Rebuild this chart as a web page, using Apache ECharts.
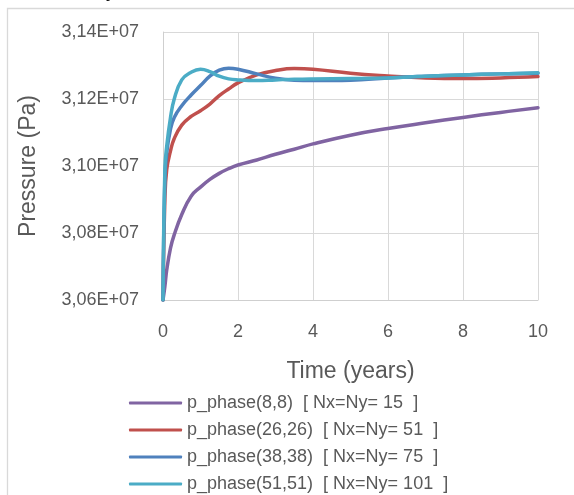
<!DOCTYPE html>
<html>
<head>
<meta charset="utf-8">
<script src="https://cdn.jsdelivr.net/npm/echarts@6/dist/echarts.min.js"></script>
<style>
  html, body { margin: 0; padding: 0; background: #ffffff; }
  #chart { width: 574px; height: 495px; }
</style>
</head>
<body>
<div id="chart"></div>
<script>
// Time samples (years) shared by all series
const timeYears = [0, 0.05, 0.1, 0.2, 0.3, 0.5, 0.75, 1, 1.25, 1.5, 1.75, 2, 2.5, 3, 3.5, 4, 5, 6, 7, 8, 9, 10];

// Phase pressure (Pa) at the monitored cell for each grid resolution
const pressureN15 = [30600000, 30640000, 30690000, 30755000, 30795000, 30855000, 30910000, 30937000, 30960000, 30978000, 30992000, 31003000, 31018000, 31035000, 31050000, 31066000, 31092000, 31112000, 31129000, 31145000, 31160000, 31174000];
const pressureN51 = [30600000, 30900000, 30990000, 31045000, 31082000, 31122000, 31148000, 31165000, 31185000, 31210000, 31230000, 31248000, 31272000, 31285000, 31291000, 31289000, 31277000, 31269000, 31263000, 31261000, 31263000, 31267000];
const pressureN75 = [30600000, 30960000, 31040000, 31110000, 31145000, 31180000, 31212000, 31240000, 31268000, 31286000, 31292000, 31289000, 31275000, 31262000, 31256000, 31255000, 31256000, 31263000, 31268000, 31272000, 31275000, 31277000];
const pressureN101 = [30600000, 30990000, 31060000, 31145000, 31200000, 31257000, 31280000, 31289000, 31282000, 31268000, 31260000, 31257000, 31255000, 31257000, 31259000, 31260000, 31261000, 31263000, 31268000, 31272000, 31275000, 31278000];

const seriesNames = [
  'p_phase(8,8)  [ Nx=Ny= 15  ]',
  'p_phase(26,26)  [ Nx=Ny= 51  ]',
  'p_phase(38,38)  [ Nx=Ny= 75  ]',
  'p_phase(51,51)  [ Nx=Ny= 101  ]'
];
const seriesValues = [pressureN15, pressureN51, pressureN75, pressureN101];
const seriesColors = ['#8064A2', '#C0504D', '#4F81BD', '#4BACC6'];

const xTitle = 'Time (years)';
const yTitle = 'Pressure (Pa)';

const FONT = '"Liberation Sans", Arial, sans-serif';
const TEXT = '#595959';
const GRID_LINE = '#D9D9D9';

const chart = echarts.init(document.getElementById('chart'), null, { renderer: 'canvas' });

const series = seriesValues.map((vals, i) => ({
  name: seriesNames[i],
  type: 'line',
  data: timeYears.map((t, k) => [t, vals[k]]),
  showSymbol: false,
  smooth: 0.45,
  lineStyle: { width: 3.5, color: seriesColors[i], cap: 'round', join: 'round' },
  itemStyle: { color: seriesColors[i] },
  emphasis: { disabled: true },
  animation: false
}));

chart.setOption({
  animation: false,
  backgroundColor: '#ffffff',
  graphic: [
    {
      type: 'rect',
      shape: { x: 7.5, y: 8.5, width: 700, height: 700 },
      style: { fill: 'none', stroke: GRID_LINE, lineWidth: 1.3 },
      silent: true
    },
    {
      type: 'text',
      left: 106, top: -15,
      style: { text: 'p', font: '16px "Liberation Serif", serif', fill: '#000000' },
      silent: true
    }
  ],
  grid: { left: 163, top: 32, width: 375, height: 268 },
  xAxis: {
    type: 'value',
    min: 0, max: 10, interval: 2,
    name: xTitle,
    nameLocation: 'middle',
    nameGap: 60,
    nameTextStyle: { fontSize: 23, color: TEXT, fontFamily: FONT },
    axisLine: { show: true, lineStyle: { color: '#CFCFCF', width: 1 } },
    axisTick: { show: false },
    axisLabel: { fontSize: 18, color: TEXT, fontFamily: FONT, margin: 23 },
    splitLine: { show: true, lineStyle: { color: GRID_LINE, width: 1 } }
  },
  yAxis: {
    type: 'value',
    min: 30600000, max: 31400000, interval: 200000,
    name: yTitle,
    nameLocation: 'middle',
    nameRotate: 90,
    nameGap: 123,
    nameTextStyle: { fontSize: 23, color: TEXT, fontFamily: FONT },
    axisLine: { show: true, lineStyle: { color: '#CFCFCF', width: 1 } },
    axisTick: { show: false },
    axisLabel: {
      fontSize: 18, color: TEXT, fontFamily: FONT, margin: 24,
      formatter: v => (v / 1e7).toFixed(2).replace('.', ',') + 'E+07'
    },
    splitLine: { show: true, lineStyle: { color: GRID_LINE, width: 1 } }
  },
  legend: {
    orient: 'vertical',
    left: 129, top: 393,
    padding: 0,
    itemWidth: 53, itemHeight: 3, itemGap: 7,
    icon: 'roundRect',
    data: seriesNames,
    textStyle: { fontSize: 18, color: TEXT, fontFamily: FONT, lineHeight: 20 },
    selectedMode: false
  },
  series: series
});
</script>
</body>
</html>
